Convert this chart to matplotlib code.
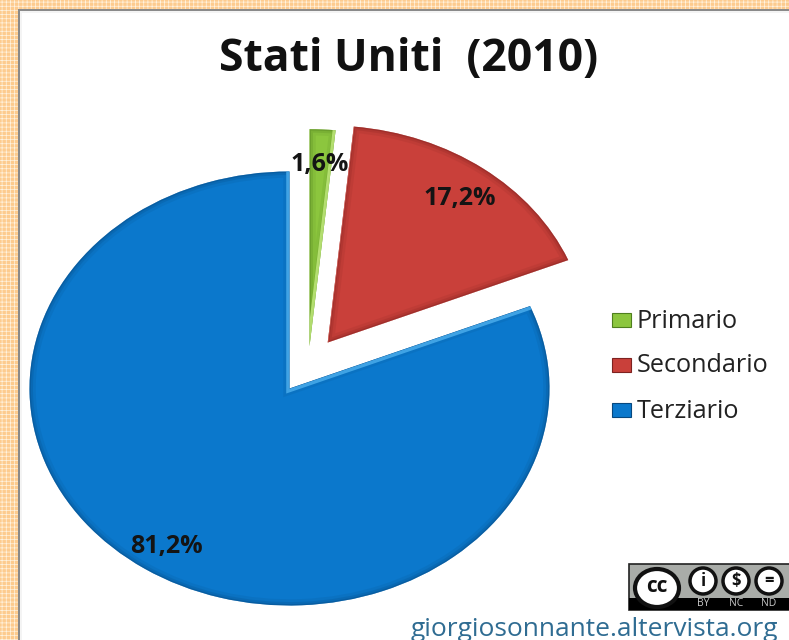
import matplotlib
matplotlib.use('Agg')
from matplotlib import pyplot as plt
from matplotlib.patches import Rectangle, Circle, Ellipse, Wedge

plt.rcParams['font.family'] = ['Open Sans', 'DejaVu Sans']
plt.rcParams['hatch.linewidth'] = 0.5
plt.rcParams['hatch.color'] = '#FFF3E0'

categories = ['Primario', 'Secondario', 'Terziario']
values = [1.6, 17.2, 81.2]
explode = [0.2, 0.26, 0]
colors = ['#8CC63E', '#C9403A', '#0B78CC']
edges = ['#4F7F1E', '#7E2220', '#07487F']
bevels = ['#C4EC80', '#EC7A70', '#4DB2F2']

W, H = 789, 640
fig = plt.figure(figsize=(W / 100, H / 100), dpi=100, facecolor='#FDCB8E')

# page background, in pixel coords
bg = fig.add_axes([0, 0, 1, 1], zorder=0)
bg.set_xlim(0, W)
bg.set_ylim(H, 0)
bg.axis('off')
bg.add_patch(Rectangle((0, 0), W, H, fc='#FDCB8E', ec='#FFF3E0', hatch='++++', lw=0))
bg.add_patch(Rectangle((18, 9), W, H, fc='#8A8A8A', ec='none'))
bg.add_patch(Rectangle((20, 11), W, H, fc='#F4F4F4', ec='none'))
bg.add_patch(Rectangle((22, 13), W, H, fc='white', ec='none'))

# pie axes, the reference is stretched so the circle is an ellipse
cx, cy, rx, ry = 289.5, 388.5, 260, 217
ax = fig.add_axes([0, 0, 1, 1], zorder=1)
ax.patch.set_alpha(0)
wedges, _ = ax.pie(values, explode=explode, colors=colors, startangle=90, counterclock=False)
ax.set_aspect('auto')
ax.set_xlim(-cx / rx, (W - cx) / rx)
ax.set_ylim((cy - H) / ry, cy / ry)
ax.axis('off')
# the slices don't sit exactly on their mid angle in the reference
wedges[0].set_center((0.077, 0.195))
wedges[1].set_center((0.147, 0.212))

# soft bevel: strokes of the same wedge, clipped to the wedge
for w, e, b in zip(wedges, edges, bevels):
    w.set_edgecolor('none')
    for lw, alpha in [(9, 0.12), (5, 0.2), (2, 0.35)]:
        rim = Wedge(w.center, w.r, w.theta1, w.theta2, fc='none', ec=e, lw=lw, alpha=alpha)
        ax.add_patch(rim)
        rim.set_clip_path(w)
    # light strip on the cut sides only, the arc of this copy falls outside the clip
    hi = Wedge((w.center[0] - 0.006, w.center[1] - 0.012), w.r * 1.2, w.theta1, w.theta2, fc='none', ec=b, lw=2.5, alpha=0.8)
    ax.add_patch(hi)
    hi.set_clip_path(w)

# text and badge on top
fg = fig.add_axes([0, 0, 1, 1], zorder=2)
fg.set_xlim(0, W)
fg.set_ylim(H, 0)
fg.axis('off')
fg.patch.set_alpha(0)

fg.text(409, 60, 'Stati Uniti  (2010)', ha='center', va='center', fontsize=32, fontweight='bold', color='#111111')

label_pos = [(320, 165), (460, 198), (166, 546)]
for v, (x, y) in zip(values, label_pos):
    fg.text(x, y, f'{v:.1f}%'.replace('.', ','), ha='center', va='center', fontsize=18,
            fontweight='bold', color='#141414')

leg_y = [320, 365, 410]
for name, c, e, y in zip(categories, colors, edges, leg_y):
    fg.add_patch(Rectangle((612, y - 7), 19, 14, fc=c, ec=e, lw=0.8))
    fg.text(637, y + 1, name, ha='left', va='center', fontsize=18.2, color='#222222')

# cc by-nc-nd badge
fg.add_patch(Rectangle((629, 564), 165, 46, fc='#A9ACA8', ec='#222222', lw=1.2))
fg.add_patch(Rectangle((629, 598), 165, 12, fc='black', ec='none'))
fg.add_patch(Ellipse((657, 588), 44, 38, fc='white', ec='#111111', lw=3))
fg.text(657, 587, 'cc', ha='center', va='center', fontsize=15, fontweight='bold', color='#111111')
for x, s in zip([703, 736, 769], ['i', '$', '=']):
    fg.add_patch(Circle((x, 581), 13, fc='white', ec='#111111', lw=2.5))
    fg.text(x, 581, s, ha='center', va='center', fontsize=12, fontweight='bold', color='#111111')
for x, s in zip([703, 736, 769], ['BY', 'NC', 'ND']):
    fg.text(x, 604, s, ha='center', va='center', fontsize=7.5, color='#C8C8C8')

fg.text(778, 629, 'giorgiosonnante.altervista.org', ha='right', va='center', fontsize=19, color='#2F6C92')

fig.savefig('out.png', dpi=100)
